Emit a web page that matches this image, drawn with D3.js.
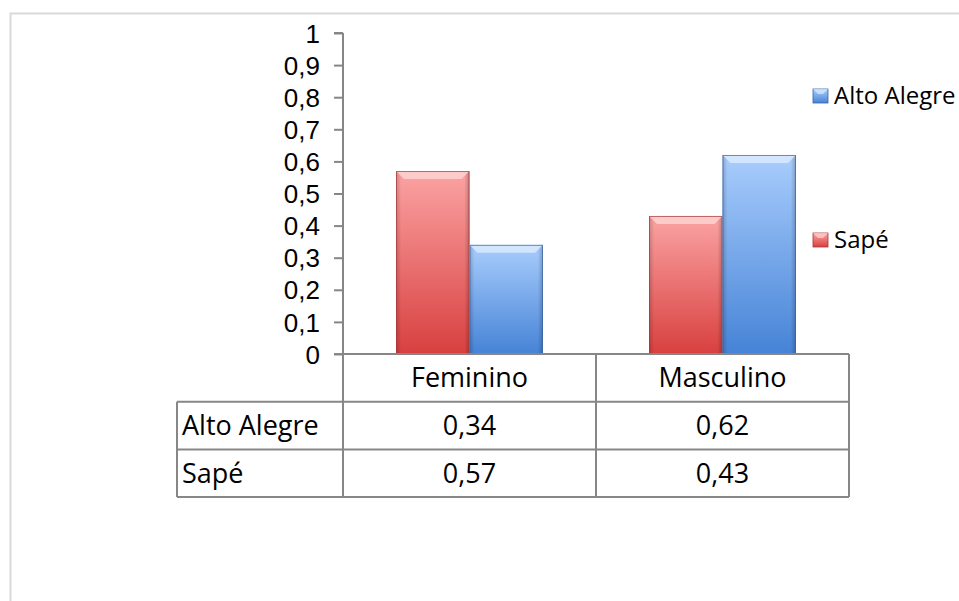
<!DOCTYPE html>
<html>
<head>
<meta charset="utf-8">
<script src="https://cdn.jsdelivr.net/npm/d3@7"></script>
<style>
  html, body { margin: 0; padding: 0; background: #fff; }
  svg { display: block; }
  text { font-family: "Open Sans", "Noto Sans", sans-serif; fill: #000; }
</style>
</head>
<body>
<svg id="chart" width="959" height="601"></svg>
<script>
// Data
const categories = ["Feminino", "Masculino"];
const seriesNames = ["Alto Alegre", "Sapé"];
const altoAlegre = [0.34, 0.62];
const sape = [0.57, 0.43];
const yTicks = [0, 0.1, 0.2, 0.3, 0.4, 0.5, 0.6, 0.7, 0.8, 0.9, 1];
const tableValues = { "Alto Alegre": ["0,34", "0,62"], "Sapé": ["0,57", "0,43"] };

// Bars are drawn Sapé (left) then Alto Alegre (right) in each group
const barOrder = ["Sapé", "Alto Alegre"];
const valuesBySeries = { "Alto Alegre": altoAlegre, "Sapé": sape };

const palette = {
  "Sapé": { top: "#fba3a3", bottom: "#d8403f", edge: "#a83838", light: "#ffd6d6" },
  "Alto Alegre": { top: "#a9cdfd", bottom: "#4683d6", edge: "#3a63a3", light: "#dcecff" }
};

const svg = d3.select("#chart");

// Outer chart frame
svg.append("rect")
  .attr("x", 10.5).attr("y", 13.5)
  .attr("width", 1000).attr("height", 700)
  .attr("fill", "#fff").attr("stroke", "#d9d9d9").attr("stroke-width", 2);

const plotLeft = 343, plotRight = 849, plotTop = 33, plotBottom = 354;

const y = d3.scaleLinear().domain([0, 1]).range([plotBottom, plotTop]);
const x0 = d3.scaleBand().domain(categories).range([plotLeft, plotRight]);
const x1 = d3.scaleBand().domain(barOrder)
  .range([53, x0.bandwidth() - 53]);

// Gradients
const defs = svg.append("defs");
barOrder.forEach((s, i) => {
  const g = defs.append("linearGradient").attr("id", "grad" + i)
    .attr("x1", 0).attr("y1", 0).attr("x2", 0).attr("y2", 1);
  g.append("stop").attr("offset", "0%").attr("stop-color", palette[s].top);
  g.append("stop").attr("offset", "100%").attr("stop-color", palette[s].bottom);
  const h = defs.append("linearGradient").attr("id", "side" + i)
    .attr("x1", 0).attr("y1", 0).attr("x2", 1).attr("y2", 0);
  h.append("stop").attr("offset", "0%").attr("stop-color", "#000").attr("stop-opacity", 0.18);
  h.append("stop").attr("offset", "7%").attr("stop-color", "#000").attr("stop-opacity", 0);
  h.append("stop").attr("offset", "93%").attr("stop-color", "#000").attr("stop-opacity", 0);
  h.append("stop").attr("offset", "100%").attr("stop-color", "#000").attr("stop-opacity", 0.22);
});

// Bars
const bars = [];
categories.forEach((c, ci) => {
  barOrder.forEach((s, si) => {
    bars.push({ cat: c, series: s, si, value: valuesBySeries[s][ci] });
  });
});

const barG = svg.append("g");
const bw = x1.bandwidth();
bars.forEach(d => {
  const bx = x0(d.cat) + x1(d.series);
  const by = y(d.value);
  const bh = y(0) - by;
  const g = barG.append("g");
  g.append("rect").attr("x", bx).attr("y", by).attr("width", bw).attr("height", bh)
    .attr("fill", `url(#grad${d.si})`);
  g.append("rect").attr("x", bx).attr("y", by).attr("width", bw).attr("height", bh)
    .attr("fill", `url(#side${d.si})`);
  // top bevel highlight
  const bev = 8;
  g.append("path")
    .attr("d", `M${bx},${by} L${bx + bw},${by} L${bx + bw - bev},${by + bev} L${bx + bev},${by + bev} Z`)
    .attr("fill", palette[d.series].light).attr("opacity", 0.8);
  g.append("rect").attr("x", bx + 0.5).attr("y", by + 0.5).attr("width", bw - 1).attr("height", bh - 1)
    .attr("fill", "none").attr("stroke", palette[d.series].edge).attr("stroke-width", 1).attr("opacity", 0.7);
});

// Y axis
const yAxis = d3.axisLeft(y).tickValues(yTicks).tickSize(9).tickPadding(14)
  .tickFormat(d => d3.format(".1~f")(d).replace(".", ","));
const ya = svg.append("g").attr("transform", `translate(${plotLeft},0)`).call(yAxis);
ya.select(".domain").attr("stroke", "#868686").attr("stroke-width", 2)
  .attr("d", `M0,${plotTop}H-9M0,${plotTop}V${plotBottom}`);
ya.selectAll(".tick line").attr("stroke", "#868686").attr("stroke-width", 2);
ya.selectAll(".tick text").attr("font-size", 26)
  .style("font-family", "'Liberation Sans', Arial, sans-serif")
  .attr("fill", "#000").attr("dy", "0.35em");

// Data table
const tableLeft = 177, rowH = 47.7;
const rows = [plotBottom, plotBottom + rowH, plotBottom + 2 * rowH, plotBottom + 3 * rowH];
const lineColor = "#878787";
const tg = svg.append("g").attr("stroke", lineColor).attr("stroke-width", 2).attr("fill", "none");
// horizontal lines
tg.append("line").attr("x1", plotLeft - 9).attr("x2", plotRight).attr("y1", rows[0]).attr("y2", rows[0]);
[1, 2, 3].forEach(i => {
  tg.append("line").attr("x1", tableLeft).attr("x2", plotRight).attr("y1", rows[i]).attr("y2", rows[i]);
});
// vertical lines
tg.append("line").attr("x1", tableLeft).attr("x2", tableLeft).attr("y1", rows[1]).attr("y2", rows[3]);
[plotLeft, x0(categories[1]), plotRight].forEach(xv => {
  tg.append("line").attr("x1", xv).attr("x2", xv).attr("y1", rows[0]).attr("y2", rows[3]);
});

const fs = 27;
categories.forEach(c => {
  svg.append("text").attr("x", x0(c) + x0.bandwidth() / 2).attr("y", rows[0] + rowH / 2)
    .attr("dy", "0.35em").attr("text-anchor", "middle").attr("font-size", fs).text(c);
});
seriesNames.forEach((s, ri) => {
  const cy = rows[ri + 1] + rowH / 2;
  svg.append("text").attr("x", tableLeft + 5).attr("y", cy).attr("dy", "0.35em")
    .attr("font-size", fs).text(s);
  categories.forEach((c, ci) => {
    svg.append("text").attr("x", x0(c) + x0.bandwidth() / 2).attr("y", cy).attr("dy", "0.35em")
      .attr("text-anchor", "middle").attr("font-size", fs).text(tableValues[s][ci]);
  });
});

// Legend
const legendY = { "Alto Alegre": 96, "Sapé": 240 };
const legendX = 813;
seriesNames.forEach(s => {
  const si = barOrder.indexOf(s);
  const ly = legendY[s];
  const lg = svg.append("g");
  lg.append("rect").attr("x", legendX).attr("y", ly - 7).attr("width", 15).attr("height", 14)
    .attr("fill", `url(#grad${si})`).attr("stroke", palette[s].edge).attr("stroke-width", 0.8);
  lg.append("path")
    .attr("d", `M${legendX},${ly - 7} L${legendX + 15},${ly - 7} L${legendX + 10},${ly - 2} L${legendX + 5},${ly - 2} Z`)
    .attr("fill", palette[s].light).attr("opacity", 0.7);
  lg.append("text").attr("x", legendX + 21).attr("y", ly).attr("dy", "0.35em")
    .attr("font-size", 24).text(s);
});
</script>
</body>
</html>
